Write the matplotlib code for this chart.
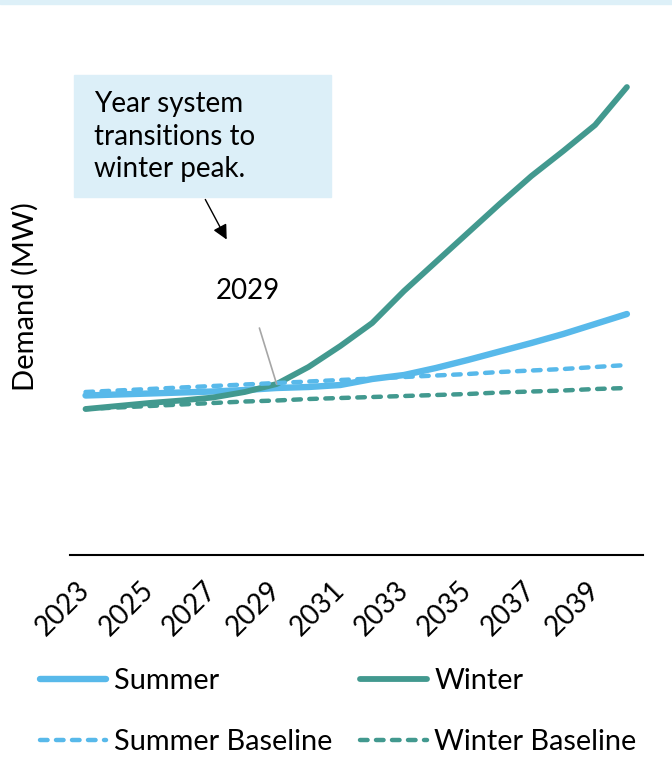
import matplotlib
matplotlib.use("Agg")
import matplotlib.pyplot as plt
from matplotlib.patches import Rectangle

plt.rcParams['font.family'] = ['Lato', 'DejaVu Sans']

# anni e valori (unità arbitrarie, asse y senza etichette)
years = list(range(2023, 2041))
summer = [157.5, 158.5, 159.5, 160.5, 161.5, 163, 165, 166, 168, 174, 178, 185, 193, 201.5, 210, 219, 229, 239]
winter = [144, 147, 150, 152.5, 155.5, 161, 169, 186, 207, 230, 262, 291, 320, 349, 377, 402, 428, 466]
summer_base = [161, 162.5, 164, 165.5, 167, 168.5, 170, 171.5, 173, 174.5, 176, 177.5, 179, 181, 182.5, 184, 186, 188]
winter_base = [144, 145.5, 147, 148.5, 150, 151.5, 152.5, 154, 155, 156, 157, 158, 159, 160.5, 161.5, 162.5, 164, 165]
tick_years = years[::2]

c_summer = "#58B9EA"
c_winter = "#42998F"
fs = 20

fig = plt.figure(figsize=(6.72, 7.81), dpi=100)
ax = fig.add_axes([0.1036, 0.2894, 0.853, 0.6337])

x = list(range(len(years)))
dash = (1.7, 1.9)
l_s, = ax.plot(x, summer, color=c_summer, lw=4.6, solid_capstyle="round", label="Summer")
l_w, = ax.plot(x, winter, color=c_winter, lw=4.2, solid_capstyle="round", label="Winter")
l_sb, = ax.plot(x, summer_base, color=c_summer, lw=3.2, linestyle=(0, dash),
                dash_capstyle="round", label="Summer Baseline")
l_wb, = ax.plot(x, winter_base, color=c_winter, lw=3.2, linestyle=(0, dash),
                dash_capstyle="round", label="Winter Baseline")

ax.set_xlim(-0.5, 17.5)
ax.set_ylim(-2, 493)
for s in ["top", "right", "left"]:
    ax.spines[s].set_visible(False)
ax.spines["bottom"].set_linewidth(1.5)
ax.set_yticks([])
ax.set_xticks([years.index(y) for y in tick_years])
ax.set_xticklabels([str(y) for y in tick_years], rotation=45, ha="right",
                   va="center", rotation_mode="anchor", fontsize=fs)
ax.tick_params(axis="x", length=0, pad=22)

fig.text(25 / 672, 1 - 297 / 781, "Demand (MW)", rotation=90, ha="center",
         va="center", fontsize=21)

# striscia azzurra in alto
fig.patches.append(Rectangle((0, 1 - 4 / 781), 1, 4 / 781, transform=fig.transFigure,
                             color="#DDF0F8", zorder=0))

# riquadro di annotazione
fig.patches.append(Rectangle((74 / 672, 1 - 197 / 781), 257 / 672, 122 / 781,
                             transform=fig.transFigure, color="#DCEFF8", zorder=0))
fig.text(94 / 672, 1 - 91 / 781, "Year system\ntransitions to\nwinter peak.",
         ha="left", va="top", fontsize=fs, linespacing=1.32)
ax.annotate("", xy=(228 / 672, 1 - 242 / 781), xycoords="figure fraction",
            xytext=(204 / 672, 1 - 197 / 781), textcoords="figure fraction",
            arrowprops=dict(arrowstyle="-|>", color="black", lw=1, mutation_scale=22))

ax.annotate("2029", xy=(6, winter[6]), xytext=(248 / 672, 1 - 291 / 781),
            textcoords="figure fraction", ha="center", va="center", fontsize=fs,
            arrowprops=dict(arrowstyle="-", color="#A6A6A6", lw=1.2, shrinkA=16, shrinkB=0))

fig.legend(handles=[l_s, l_sb, l_w, l_wb], ncol=2, loc="upper left",
           bbox_to_anchor=(40 / 672, 1 - 668 / 781), frameon=False, fontsize=20.8,
           handlelength=2.3, handletextpad=0.27, columnspacing=0.95,
           labelspacing=1.2, borderpad=0, borderaxespad=0)

fig.savefig("out.png", dpi=100)
